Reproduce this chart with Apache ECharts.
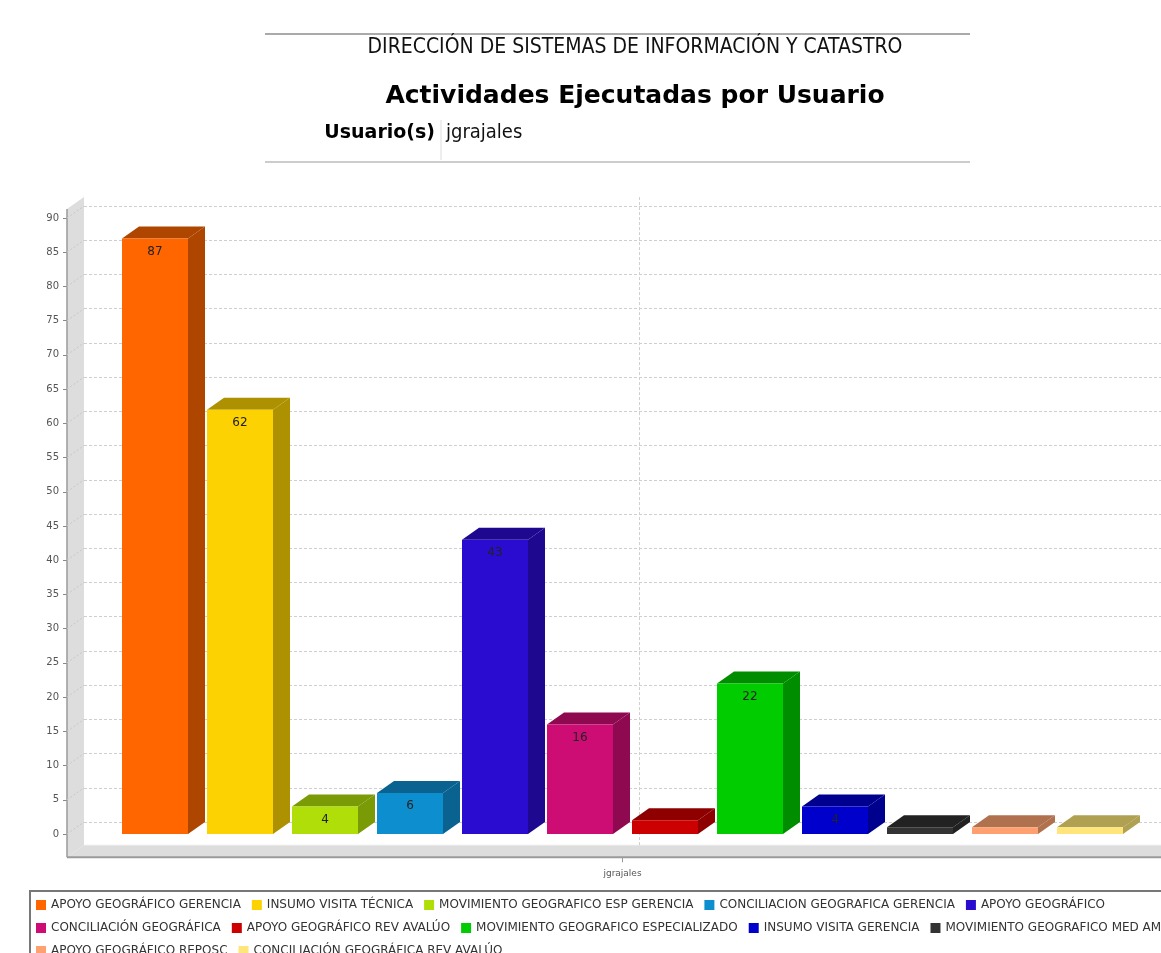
<!DOCTYPE html>
<html><head><meta charset="utf-8">
<script src="https://cdn.jsdelivr.net/npm/echarts@6/dist/echarts.min.js"></script>
<style>html,body{margin:0;padding:0;background:#fff}#c{width:1161px;height:953px}</style>
</head><body><div id="c"></div>
<script>
// ---------- data ----------
const categories = ['jgrajales'];
const activities = [
  'APOYO GEOGRÁFICO GERENCIA', 'INSUMO VISITA TÉCNICA', 'MOVIMIENTO GEOGRAFICO ESP GERENCIA',
  'CONCILIACION GEOGRAFICA GERENCIA', 'APOYO GEOGRÁFICO',
  'CONCILIACIÓN GEOGRÁFICA', 'APOYO GEOGRÁFICO REV AVALÚO', 'MOVIMIENTO GEOGRAFICO ESPECIALIZADO',
  'INSUMO VISITA GERENCIA', 'MOVIMIENTO GEOGRAFICO MED AMBIENTAL',
  'APOYO GEOGRÁFICO REPOSC', 'CONCILIACIÓN GEOGRÁFICA REV AVALÚO'
];
const values = [87, 62, 4, 6, 43, 16, 2, 22, 4, 1, 1, 1];
const yTickValues = [0, 5, 10, 15, 20, 25, 30, 35, 40, 45, 50, 55, 60, 65, 70, 75, 80, 85, 90];
const legendRows = [[0, 5], [5, 10], [10, 12]];

// ---------- styles ----------
const frontColors = ['#FF6600', '#FCD202', '#B0DE09', '#0D8ECF', '#2A0CD0', '#CD0D74',
  '#CC0000', '#00CC00', '#0000CC', '#333333', '#FFA070', '#FFE57A'];
const shadeColors = ['#AE4600', '#AE9101', '#7A9A06', '#09628F', '#1D088F', '#8E0950',
  '#8E0000', '#008E00', '#00008E', '#222222', '#B0724E', '#B0A052'];
const DX = 17, DY = 12;
const MARGIN = 55 / 1111, BARW = 66 / 1111, STEP = 85 / 1111;
const FLOOR_V = -3.4, TOP_V = 91.3;
const FONT = '"DejaVu Sans", Verdana, sans-serif';
const CFONT = '"DejaVu Sans Condensed", "DejaVu Sans", sans-serif';

const chart = echarts.init(document.getElementById('c'), null, { renderer: 'canvas' });

function barRender(i) {
  return function (params, api) {
    const v = api.value(1);
    const base = api.coord([api.value(0), 0]);
    const top = api.coord([api.value(0), v]);
    const band = api.size([1, 0])[0];
    const x0 = base[0] - band / 2 + band * MARGIN + i * band * STEP;
    const x1 = x0 + band * BARW;
    const y0 = base[1], y1 = top[1];
    const children = [
      { type: 'polygon', shape: { points: [[x1, y1], [x1 + DX, y1 - DY], [x1 + DX, y0 - DY], [x1, y0]] },
        style: { fill: shadeColors[i] } },
      { type: 'polygon', shape: { points: [[x0, y1], [x0 + DX, y1 - DY], [x1 + DX, y1 - DY], [x1, y1]] },
        style: { fill: shadeColors[i] } },
      { type: 'rect', shape: { x: x0, y: y1, width: x1 - x0, height: y0 - y1 },
        style: { fill: frontColors[i] } }
    ];
    if (v >= 3) {
      children.push({ type: 'text', style: { text: String(v), x: (x0 + x1) / 2, y: y1 + 13,
        align: 'center', verticalAlign: 'middle', fill: '#222', font: '12px ' + FONT } });
    }
    return { type: 'group', children };
  };
}

function frameRender(params, api) {
  const c = api.coord([0, 0]);
  const band = api.size([1, 0])[0];
  const xL = c[0] - band / 2, xR = c[0] + band / 2;
  const yB = api.coord([0, FLOOR_V])[1], yT = api.coord([0, TOP_V])[1];
  const ch = [
    { type: 'polygon', shape: { points: [[xL, yT], [xL + DX, yT - DY], [xL + DX, yB - DY], [xL, yB]] },
      style: { fill: '#DDDDDD' } },
    { type: 'polygon', shape: { points: [[xL, yB], [xL + DX, yB - DY], [xR + DX, yB - DY], [xR, yB]] },
      style: { fill: '#DDDDDD' } },
    { type: 'line', shape: { x1: xL + DX, y1: yB - DY, x2: xR + DX, y2: yB - DY }, style: { stroke: '#E8E8E8', lineWidth: 1 } },
    { type: 'line', shape: { x1: c[0] + DX, y1: yT - DY, x2: c[0] + DX, y2: yB - DY },
      style: { stroke: '#CFCFCF', lineWidth: 1, lineDash: [3, 2] } },
    { type: 'line', shape: { x1: xL, y1: yT, x2: xL, y2: yB }, style: { stroke: '#9A9A9A', lineWidth: 1.5 } },
    { type: 'line', shape: { x1: xL, y1: yB, x2: xR, y2: yB }, style: { stroke: '#9A9A9A', lineWidth: 2 } },
    { type: 'line', shape: { x1: c[0], y1: yB, x2: c[0], y2: yB + 5 }, style: { stroke: '#999', lineWidth: 1 } }
  ];
  yTickValues.forEach(t => {
    const y = api.coord([0, t])[1];
    ch.push({ type: 'line', shape: { x1: xL, y1: y, x2: xL + DX, y2: y - DY },
      style: { stroke: '#C8C8C8', lineWidth: 1, lineDash: [2, 2] } });
  });
  return { type: 'group', children: ch };
}

const yMin = yTickValues[0], yMax = yTickValues[yTickValues.length - 1], yStep = yTickValues[1] - yTickValues[0];

const series = [{
  type: 'custom', name: '__frame', xAxisIndex: 0, yAxisIndex: 0, silent: true, z: 1,
  renderItem: frameRender, data: [[0, 0]], legendHoverLink: false
}];
activities.forEach((name, i) => {
  series.push({
    type: 'custom', name, xAxisIndex: 0, yAxisIndex: 0, z: 2,
    itemStyle: { color: frontColors[i] },
    renderItem: barRender(i),
    encode: { x: 0, y: 1 },
    data: [[0, values[i]]]
  });
});

const option = {
  animation: false,
  backgroundColor: '#fff',
  grid: [
    { left: 67, width: 1111, top: 218, bottom: 119, outerBoundsMode: 'none', containLabel: false },
    { left: 84, width: 1111, top: 206, bottom: 131, outerBoundsMode: 'none', containLabel: false }
  ],
  xAxis: [
    { type: 'category', gridIndex: 0, data: categories, axisLine: { show: false }, axisTick: { show: false },
      axisLabel: { margin: 35, color: '#555', fontSize: 9, fontFamily: FONT } },
    { type: 'value', gridIndex: 1, show: false }
  ],
  yAxis: [
    { type: 'value', gridIndex: 0, min: yMin, max: yMax, interval: yStep,
      axisLine: { show: false }, splitLine: { show: false },
      axisTick: { show: true, length: 4, lineStyle: { color: '#888' } },
      axisLabel: { color: '#555', fontSize: 10, fontFamily: FONT, margin: 8 } },
    { type: 'value', gridIndex: 1, min: yMin, max: yMax, interval: yStep,
      axisLine: { show: false }, axisTick: { show: false }, axisLabel: { show: false },
      splitLine: { show: true, lineStyle: { color: '#CFCFCF', type: [3, 2], width: 1 } } }
  ],
  legend: legendRows.map((r, k) => ({
    data: activities.slice(r[0], r[1]),
    left: 36, top: 899 + k * 23, padding: 0, width: 1600,
    itemWidth: 10, itemHeight: 10, itemGap: 11, icon: 'rect', selectedMode: false,
    textStyle: { fontSize: 12, color: '#333', fontFamily: FONT }
  })),
  graphic: [
    { type: 'line', shape: { x1: 265, y1: 34, x2: 970, y2: 34 }, style: { stroke: '#AAAAAA', lineWidth: 2 } },
    { type: 'line', shape: { x1: 265, y1: 162, x2: 970, y2: 162 }, style: { stroke: '#CCCCCC', lineWidth: 2 } },
    { type: 'line', shape: { x1: 441, y1: 120, x2: 441, y2: 160 }, style: { stroke: '#DDDDDD', lineWidth: 1 } },
    { type: 'text', style: { text: 'DIRECCIÓN DE SISTEMAS DE INFORMACIÓN Y CATASTRO', x: 635, y: 48,
      align: 'center', verticalAlign: 'middle', fill: '#111', font: '21px ' + CFONT } },
    { type: 'text', style: { text: 'Actividades Ejecutadas por Usuario', x: 635, y: 96,
      align: 'center', verticalAlign: 'middle', fill: '#000', font: 'bold 25px ' + FONT } },
    { type: 'text', style: { text: 'Usuario(s)', x: 435, y: 133,
      align: 'right', verticalAlign: 'middle', fill: '#000', font: 'bold 19px ' + FONT } },
    { type: 'text', style: { text: 'jgrajales', x: 446, y: 133,
      align: 'left', verticalAlign: 'middle', fill: '#111', font: '20px ' + CFONT } },
    { type: 'rect', shape: { x: 30, y: 891, width: 1200, height: 100 }, style: { fill: 'none', stroke: '#777', lineWidth: 2 } }
  ],
  series
};
chart.setOption(option);
</script>
</body></html>
